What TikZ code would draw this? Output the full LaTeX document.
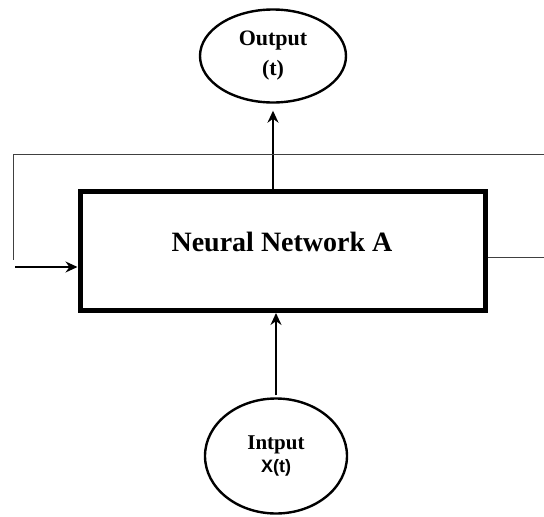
\documentclass[tikz,border=0pt]{standalone}
\usepackage{fontspec}
\setmainfont{Liberation Serif}
\setsansfont{Liberation Sans}
\usetikzlibrary{shapes.geometric, arrows.meta}

\begin{document}
\begin{tikzpicture}[>={Stealth[length=12pt, width=11pt]}, x=1pt, y=-1pt,
    blob/.style={ellipse, draw, line width=2.4pt, inner sep=0pt, align=center},
    flow/.style={->, line width=1.6pt},
    loopline/.style={line width=1pt, draw=black!75}]

    \useasboundingbox (0,0) rectangle (544,517);

    % Block for the network
    \node[draw, line width=5pt, minimum width=405pt, minimum height=119pt, inner sep=0pt] (net) at (282.5,251) {};
    \node[font=\bfseries\fontsize{28}{32}\selectfont] (netlabel) at (282,242) {Neural Network A};

    % Output and input
    \node[blob, minimum width=146pt, minimum height=93pt,
          font=\bfseries\fontsize{22}{30}\selectfont] (out) at (273,56) {Output\\(t)};
    \node[blob, minimum width=142pt, minimum height=115pt,
          font=\bfseries\fontsize{21}{23}\selectfont] (in) at (276,456)
          {Intput\\{\sffamily\fontsize{18}{23}\selectfont X(t)}};

    % Arrows through the block
    \draw[flow, shorten >=7pt] (net.north -| out.south) -- (out.south);
    \draw[flow, shorten <=2pt] (in.north) -- (net.south -| in.north);

    % Loop back round the block
    \coordinate (tl) at (13,154);
    \coordinate (tr) at (544,154);
    \coordinate (lb) at (13,260);
    \coordinate (ls) at (15,267);
    \coordinate (re) at (544,257);
    \draw[loopline] (tr) -- (tl) -- (lb);
    \draw[flow, line width=1.3pt] (ls) -- (ls -| net.west);
    \draw[loopline] (re -| net.east) -- (re);

\end{tikzpicture}
\end{document}
